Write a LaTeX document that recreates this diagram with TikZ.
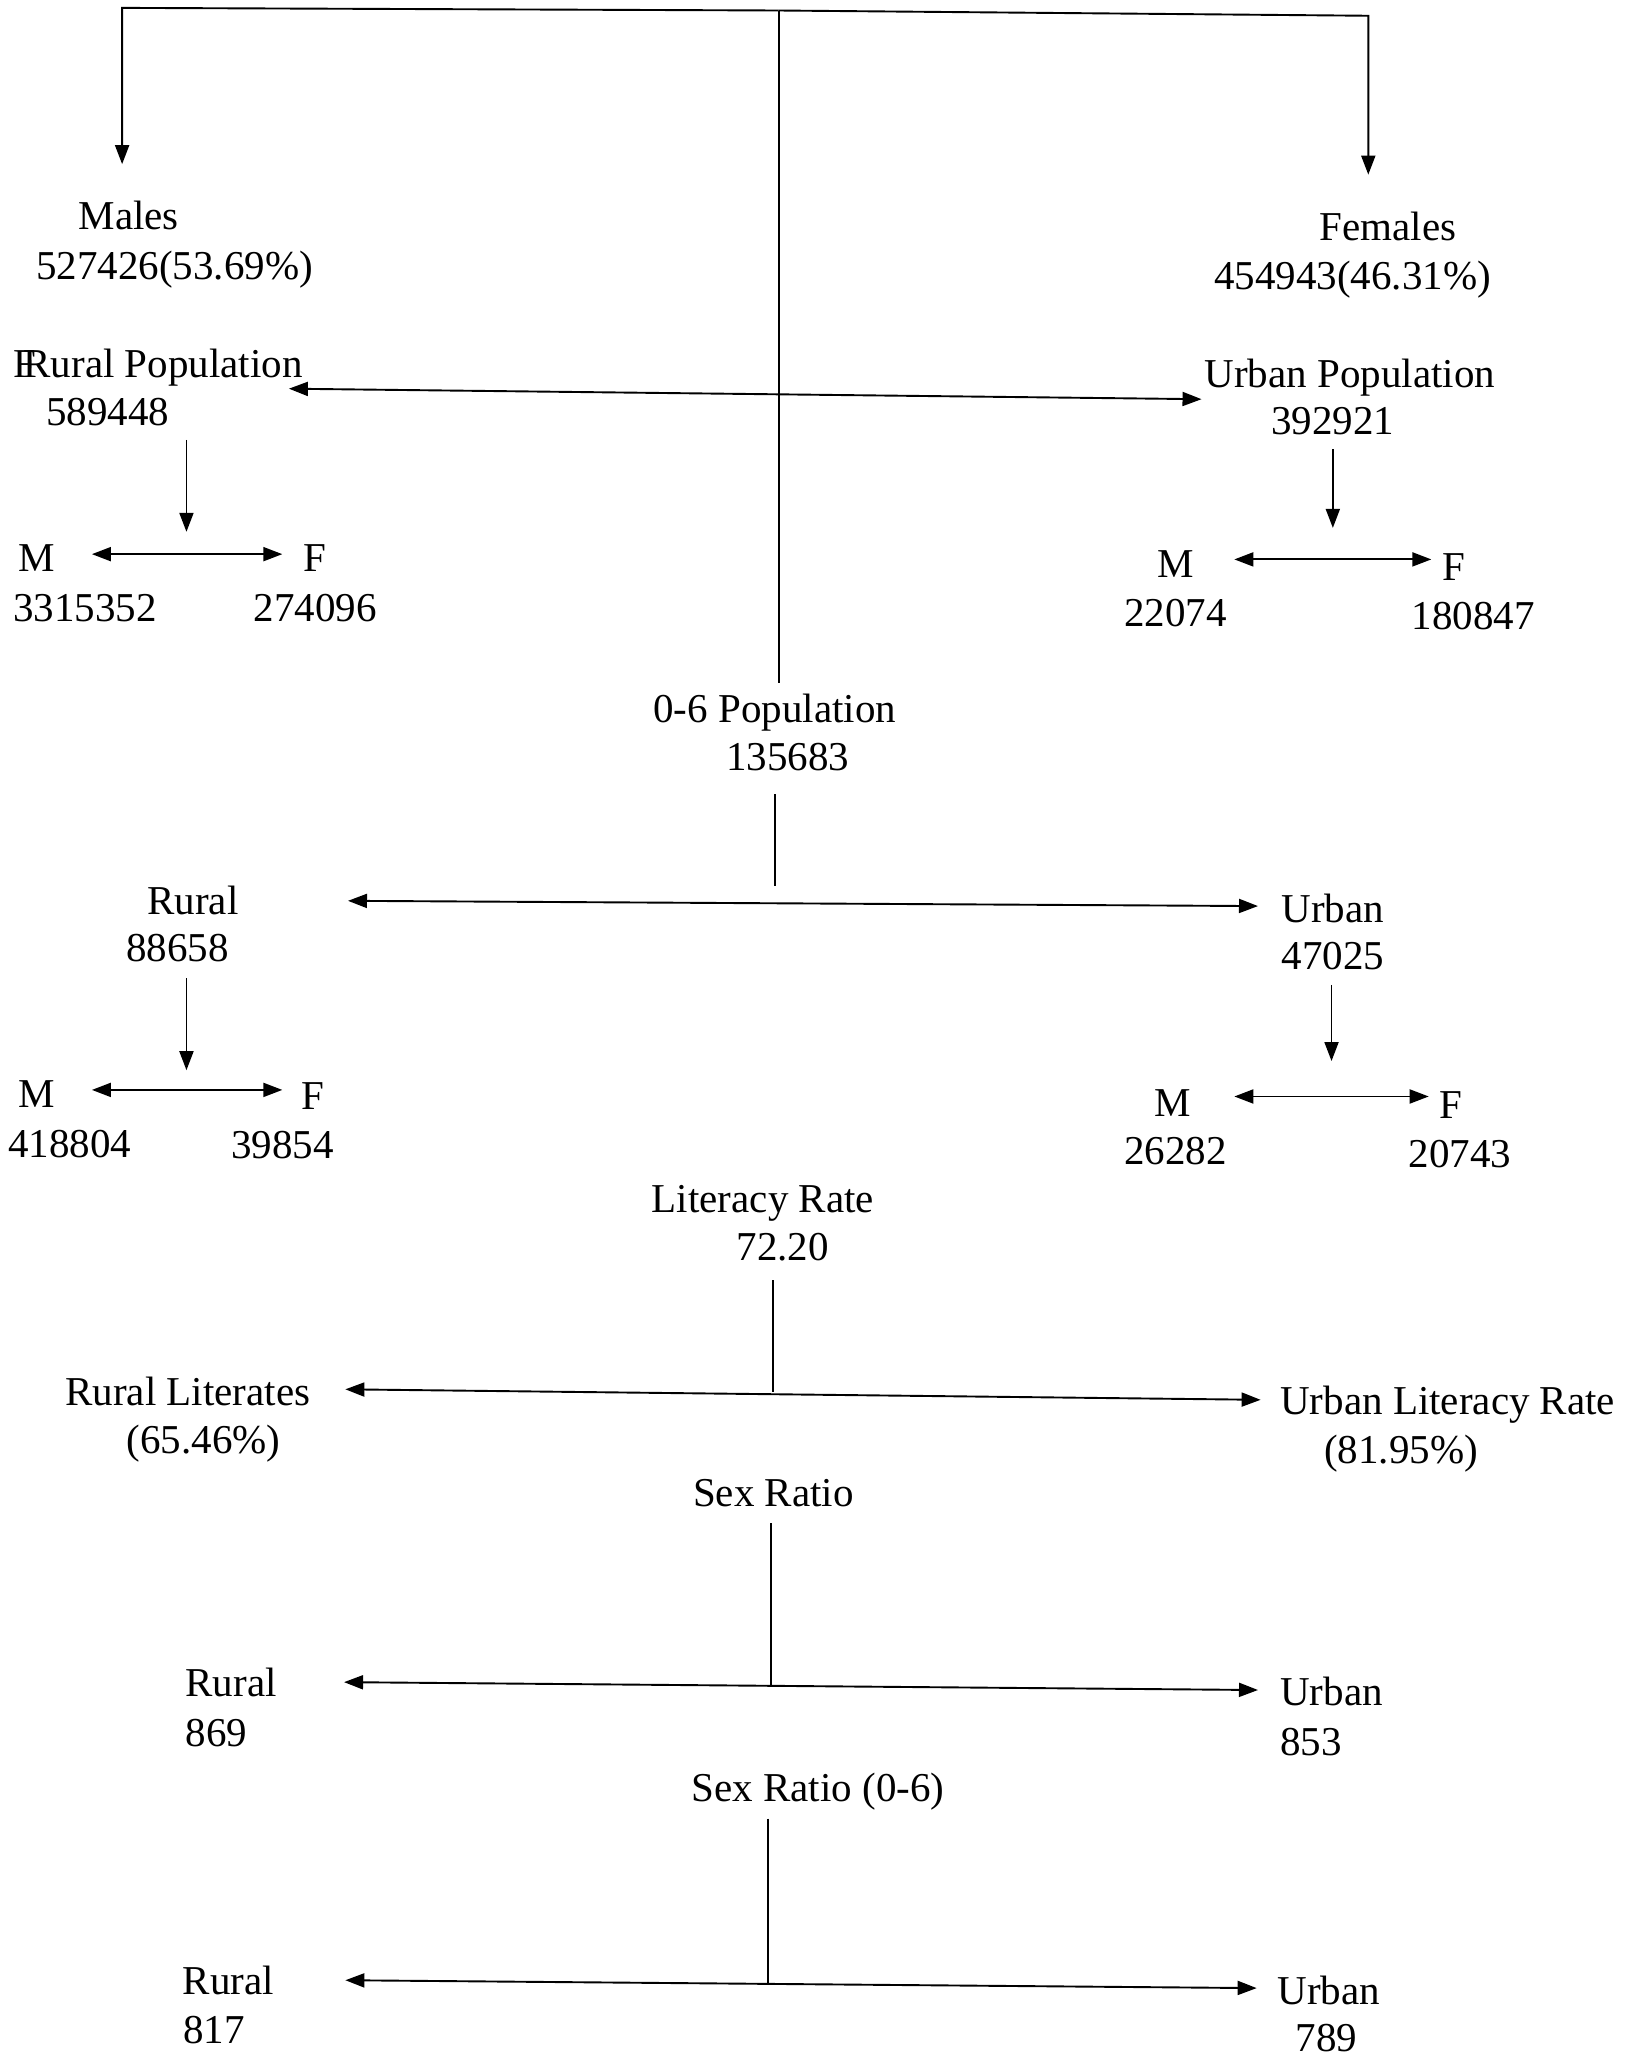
\documentclass[tikz,border=0pt]{standalone}
\usepackage{fontspec}
\setmainfont{Liberation Serif}
\usetikzlibrary{arrows.meta}
\begin{document}
\begin{tikzpicture}[x=1.3127pt,y=-1.3127pt,
  lbl/.style={inner sep=0pt,outer sep=0pt,text height=0.66em,text depth=0pt,yshift=-10pt,font=\fontsize{41pt}{49pt}\selectfont},
  conn/.style={line width=1.9pt},
  arr/.style={conn,-{Triangle[length=19pt,width=14pt]}},
  dbl/.style={conn,{Triangle[length=19pt,width=14pt]}-{Triangle[length=19pt,width=14pt]}}]
\useasboundingbox[fill=white] (0,0) rectangle (1244,1568);
% labels
\node[lbl] (males1) at (98,165) {Males};
\node[lbl] (males2) at (133,203) {527426(53.69\%)};
\node[lbl] (fem1) at (1057,173) {Females};
\node[lbl] (fem2) at (1030,210) {454943(46.31\%)};
\node[lbl,anchor=west] (rp1) at (10,277) {F\kern-0.3em Rural Population};
\node[lbl] (rp2) at (82,314) {589448};
\node[lbl] (up1) at (1028,285) {Urban Population};
\node[lbl] (up2) at (1015,321) {392921};
\node[lbl] (lM) at (28,425) {M};
\node[lbl] (lF) at (240,425) {F};
\node[lbl,anchor=west] (lMv) at (10,463) {3315352};
\node[lbl] (lFv) at (240,463) {274096};
\node[lbl] (rM) at (895,430) {M};
\node[lbl] (rF) at (1107,432) {F};
\node[lbl] (rMv) at (895,467) {22074};
\node[lbl] (rFv) at (1122,469) {180847};
\node[lbl] (pop1) at (590,540) {0-6 Population};
\node[lbl] (pop2) at (600,577) {135683};
\node[lbl] (ru1) at (147,686) {Rural};
\node[lbl] (ru2) at (135,722) {88658};
\node[lbl] (ur1) at (1015,692) {Urban};
\node[lbl] (ur2) at (1015,728) {47025};
\node[lbl] (lM2) at (28,833) {M};
\node[lbl] (lF2) at (238,835) {F};
\node[lbl] (lMv2) at (53,871) {418804};
\node[lbl] (lFv2) at (215,872) {39854};
\node[lbl] (rM2) at (893,840) {M};
\node[lbl] (rF2) at (1105,842) {F};
\node[lbl] (rMv2) at (895,877) {26282};
\node[lbl] (rFv2) at (1112,879) {20743};
\node[lbl] (lit1) at (581,913) {Literacy Rate};
\node[lbl] (lit2) at (596,950) {72.20};
\node[lbl] (rl1) at (143,1060) {Rural Literates};
\node[lbl] (rl2) at (155,1097) {(65.46\%)};
\node[lbl,anchor=west] (ul1) at (975,1067) {Urban Literacy Rate};
\node[lbl] (ul2) at (1067,1104) {(81.95\%)};
\node[lbl] (sr) at (589,1137) {Sex Ratio};
\node[lbl] (srR1) at (176,1282) {Rural};
\node[lbl] (srR2) at (165,1320) {869};
\node[lbl,anchor=west] (srU1) at (975,1289) {Urban};
\node[lbl,anchor=west] (srU2) at (975,1327) {853};
\node[lbl] (sr6) at (623,1362) {Sex Ratio (0-6)};
\node[lbl] (s6R1) at (174,1509) {Rural};
\node[lbl] (s6R2) at (163,1546) {817};
\node[lbl,anchor=west] (s6U1) at (973,1516) {Urban};
\node[lbl] (s6U2) at (1010,1552) {789};
% junction coordinates
\coordinate (TC) at (593,8);
\coordinate (TL) at (93,6);
\coordinate (TR) at (1042,12);
\coordinate (mtip) at (93,125);
\coordinate (ftip) at (1042,133);
\coordinate (cbot) at (593,520);
\coordinate (hL) at (220,296);
\coordinate (hR) at (915,304);
\coordinate (d1a) at (142,335); \coordinate (d1b) at (142,405);
\coordinate (d2a) at (1015,342); \coordinate (d2b) at (1015,402);
\coordinate (mf1a) at (70,422); \coordinate (mf1b) at (215,422);
\coordinate (mf2a) at (940,426); \coordinate (mf2b) at (1090,426);
\coordinate (p1) at (590,605); \coordinate (p2) at (590,675);
\coordinate (h2L) at (265,686); \coordinate (h2R) at (958,690);
\coordinate (d3a) at (142,745); \coordinate (d3b) at (142,815);
\coordinate (d4a) at (1014,750); \coordinate (d4b) at (1014,808);
\coordinate (mf3a) at (70,830); \coordinate (mf3b) at (215,830);
\coordinate (mf4a) at (940,835); \coordinate (mf4b) at (1088,835);
\coordinate (l1) at (589,975); \coordinate (l2) at (589,1060);
\coordinate (h3L) at (263,1058); \coordinate (h3R) at (960,1066);
\coordinate (s1) at (587,1160); \coordinate (s2) at (587,1284);
\coordinate (h4L) at (262,1281); \coordinate (h4R) at (958,1287);
\coordinate (t1) at (585,1385); \coordinate (t2) at (585,1511);
\coordinate (h5L) at (263,1508); \coordinate (h5R) at (957,1514);
% connectors
\draw[arr] (TC) -- (TL) -- (mtip);
\draw[arr] (TC) -- (TR) -- (ftip);
\draw[conn] (TC) -- (cbot);
\draw[dbl] (hL) -- (hR);
\draw[arr] (d1a) -- (d1b);
\draw[arr] (d2a) -- (d2b);
\draw[dbl] (mf1a) -- (mf1b);
\draw[dbl] (mf2a) -- (mf2b);
\draw[conn] (p1) -- (p2);
\draw[dbl] (h2L) -- (h2R);
\draw[arr] (d3a) -- (d3b);
\draw[arr] (d4a) -- (d4b);
\draw[dbl] (mf3a) -- (mf3b);
\draw[dbl] (mf4a) -- (mf4b);
\draw[conn] (l1) -- (l2);
\draw[dbl] (h3L) -- (h3R);
\draw[conn] (s1) -- (s2);
\draw[dbl] (h4L) -- (h4R);
\draw[conn] (t1) -- (t2);
\draw[dbl] (h5L) -- (h5R);
\end{tikzpicture}
\end{document}
